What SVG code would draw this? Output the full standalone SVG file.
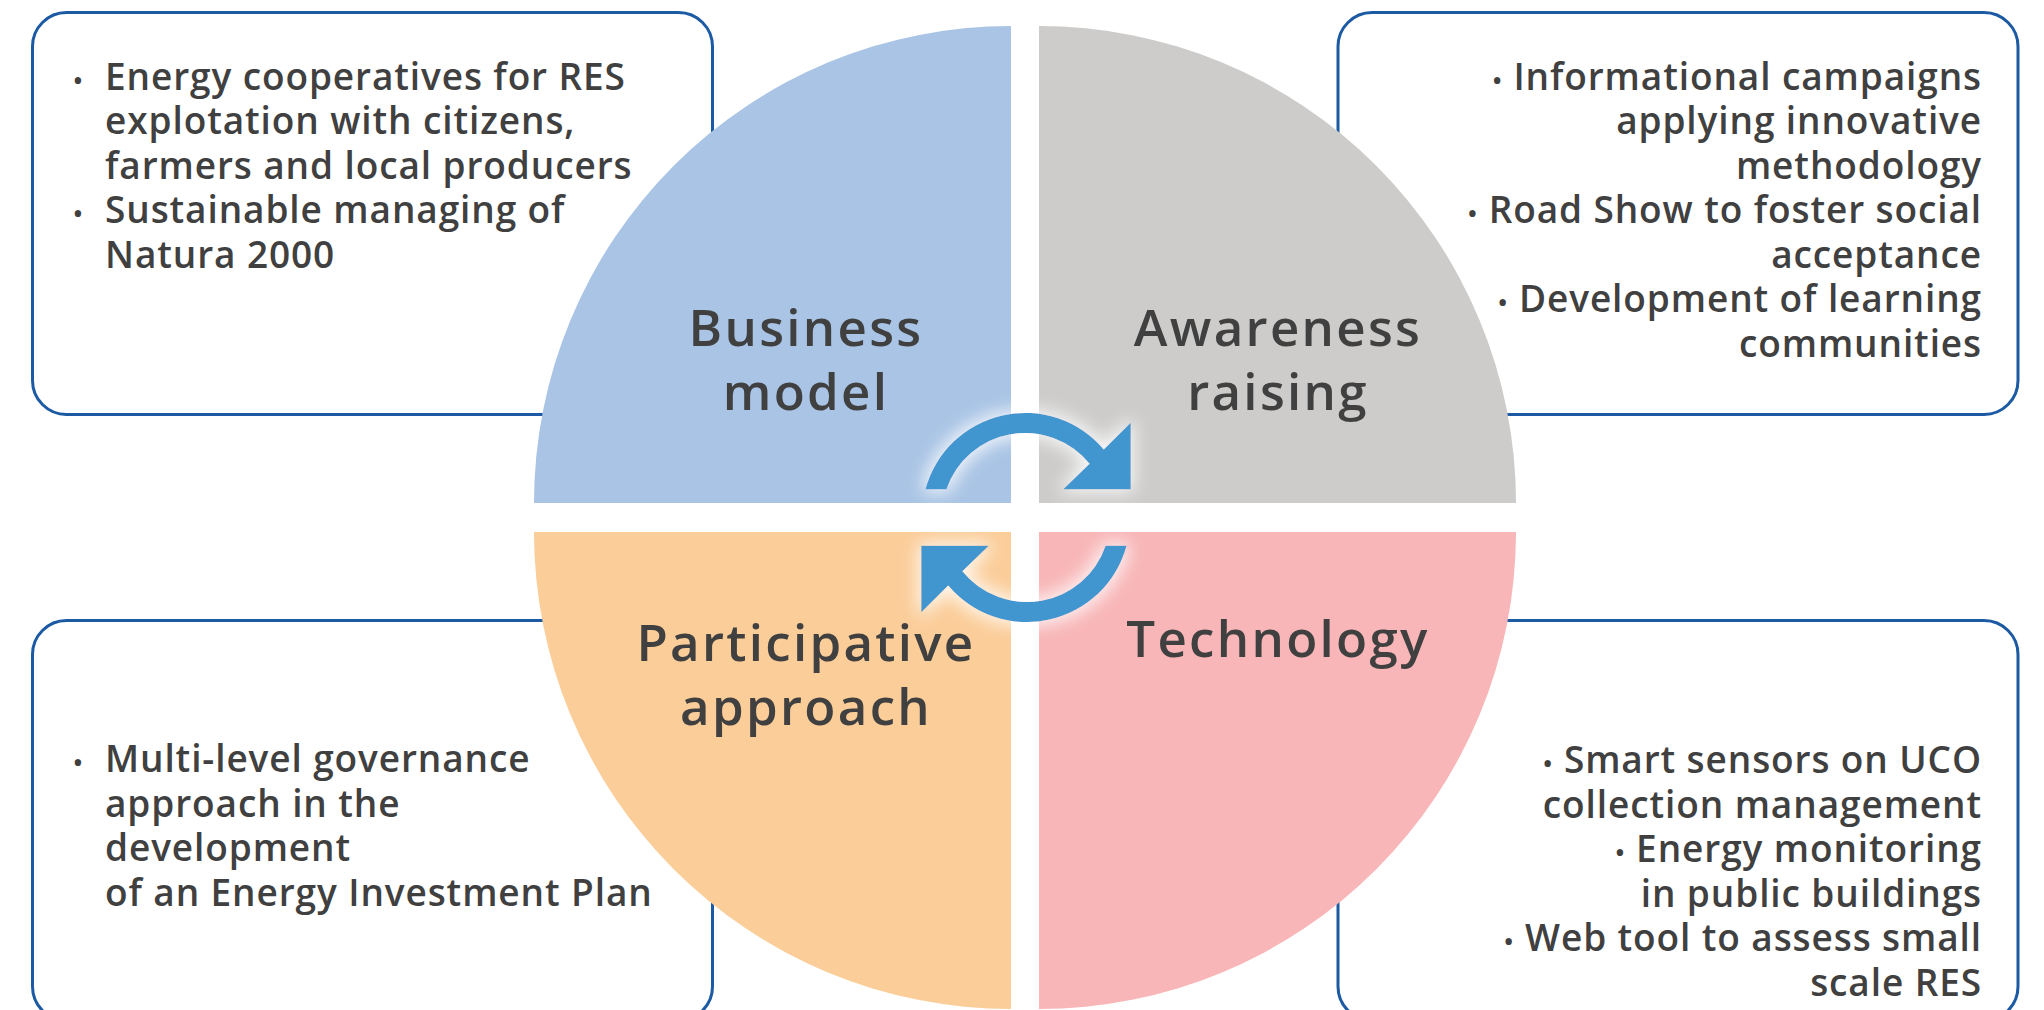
<svg xmlns="http://www.w3.org/2000/svg" width="2044" height="1010" viewBox="0 0 2044 1010">
<defs>
<style>
.box{fill:#fff;stroke:#1c5aa3;stroke-width:3}
.body{font-family:"Open Sans","Liberation Sans",sans-serif;font-weight:600;font-size:37px;fill:#404040;letter-spacing:0.9px}
.r{text-anchor:end}
.bul{font-size:26px}
.title{font-family:"Open Sans","Liberation Sans",sans-serif;font-weight:600;font-size:51px;fill:#404040;text-anchor:middle;letter-spacing:2.3px}
.arrow{fill:#4296d0}
</style>
<filter id="glow" x="-40%" y="-40%" width="180%" height="180%">
<feMorphology in="SourceAlpha" operator="dilate" radius="3" result="d"/>
<feGaussianBlur in="d" stdDeviation="9" result="b"/>
<feFlood flood-color="#ffffff" flood-opacity="0.85"/>
<feComposite in2="b" operator="in" result="g"/>
<feMerge><feMergeNode in="g"/><feMergeNode in="SourceGraphic"/></feMerge>
</filter>
</defs>
<rect width="2044" height="1010" fill="#fff"/>

<g id="box-business">
<rect class="box" x="32.5" y="12.5" width="680" height="402" rx="34"/>
<text class="body"><tspan class="bul" x="73" y="89.5">•</tspan><tspan x="105" y="89.5">Energy cooperatives for RES</tspan><tspan x="105" y="134">explotation with citizens,</tspan><tspan x="105" y="178.5">farmers and local producers</tspan><tspan class="bul" x="73" y="223">•</tspan><tspan x="105" y="223">Sustainable managing of</tspan><tspan x="105" y="267.5">Natura 2000</tspan></text>
</g>

<g id="box-awareness">
<rect class="box" x="1338" y="12.5" width="680" height="402" rx="34"/>
<text class="body r"><tspan x="1982" y="89.5"><tspan class="bul">•</tspan> Informational campaigns</tspan><tspan x="1982" y="134">applying innovative</tspan><tspan x="1982" y="178.5">methodology</tspan><tspan x="1982" y="223"><tspan class="bul">•</tspan> Road Show to foster social</tspan><tspan x="1982" y="267.5">acceptance</tspan><tspan x="1982" y="312"><tspan class="bul">•</tspan> Development of learning</tspan><tspan x="1982" y="356.5">communities</tspan></text>
</g>

<g id="box-participative">
<rect class="box" x="32.5" y="620.5" width="680" height="400" rx="34"/>
<text class="body"><tspan class="bul" x="73" y="772">•</tspan><tspan x="105" y="772">Multi-level governance</tspan><tspan x="105" y="816.5">approach in the</tspan><tspan x="105" y="861">development</tspan><tspan x="105" y="905.5">of an Energy Investment Plan</tspan></text>
</g>

<g id="box-technology">
<rect class="box" x="1338" y="620.5" width="680" height="400" rx="34"/>
<text class="body r"><tspan x="1982" y="773"><tspan class="bul">•</tspan> Smart sensors on UCO</tspan><tspan x="1982" y="817.5">collection management</tspan><tspan x="1982" y="862"><tspan class="bul">•</tspan> Energy monitoring</tspan><tspan x="1982" y="906.5">in public buildings</tspan><tspan x="1982" y="951"><tspan class="bul">•</tspan> Web tool to assess small</tspan><tspan x="1982" y="995.5">scale RES</tspan></text>
</g>

<g id="node-business">
<path d="M1011,503 L534,503 A477,477 0 0 1 1011,26 Z" fill="#a9c4e5"/>
<text class="title"><tspan x="806" y="346">Business</tspan><tspan x="806" y="410">model</tspan></text>
</g>
<g id="node-awareness">
<path d="M1039,503 L1039,26 A477,477 0 0 1 1516,503 Z" fill="#cdcccb"/>
<text class="title"><tspan x="1278" y="346">Awareness</tspan><tspan x="1278" y="410">raising</tspan></text>
</g>
<g id="node-participative">
<path d="M1011,532 L1011,1009 A477,477 0 0 1 534,532 Z" fill="#fbcd99"/>
<text class="title"><tspan x="806" y="661">Participative</tspan><tspan x="806" y="725">approach</tspan></text>
</g>
<g id="node-technology">
<path d="M1039,532 L1516,532 A477,477 0 0 1 1039,1009 Z" fill="#f8b6b8"/>
<text class="title"><tspan x="1278" y="657">Technology</tspan></text>
</g>

<g id="connectors" filter="url(#glow)">
<path class="arrow" d="M925.5,489.3 A103,103 0 0 1 1103.8,449.6 L1130.7,422.7 L1130.7,489.3 L1063.3,489.3 L1089.6,463.8 A83,83 0 0 0 946.4,489.3 Z"/>
<path class="arrow" transform="rotate(180 1026 517.5)" d="M925.5,489.3 A103,103 0 0 1 1103.8,449.6 L1130.7,422.7 L1130.7,489.3 L1063.3,489.3 L1089.6,463.8 A83,83 0 0 0 946.4,489.3 Z"/>
</g>
</svg>
